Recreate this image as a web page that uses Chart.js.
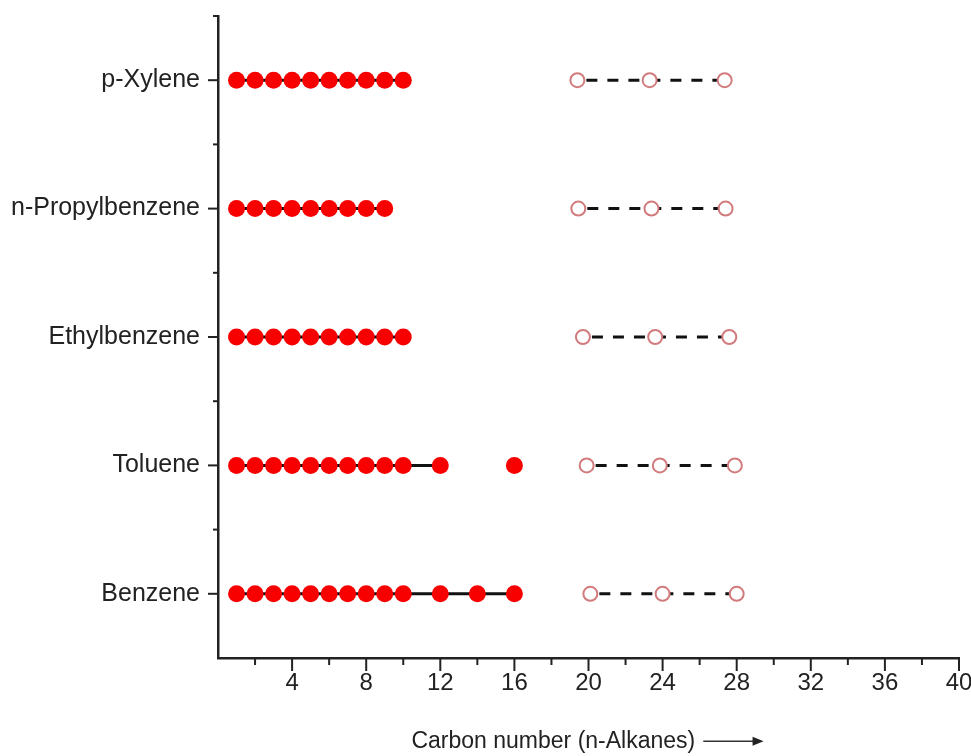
<!DOCTYPE html>
<html>
<head>
<meta charset="utf-8">
<script src="https://cdn.jsdelivr.net/npm/chart.js@4"></script>
<style>
  body { margin: 0; background: #fff; }
</style>
</head>
<body>
<canvas id="myChart" width="971" height="756"></canvas>
<script>
// compounds on the y axis, bottom to top
const compounds = ['Benzene', 'Toluene', 'Ethylbenzene', 'n-Propylbenzene', 'p-Xylene'];

// filled red markers: carbon numbers per compound
const benzeneFilled = [1, 2, 3, 4, 5, 6, 7, 8, 9, 10, 12, 14, 16];
const tolueneFilled = [1, 2, 3, 4, 5, 6, 7, 8, 9, 10, 12, 16];
const ethylFilled = [1, 2, 3, 4, 5, 6, 7, 8, 9, 10];
const propylFilled = [1, 2, 3, 4, 5, 6, 7, 8, 9];
const xyleneFilled = [1, 2, 3, 4, 5, 6, 7, 8, 9, 10];

// open markers
const benzeneOpen = [20.1, 24.0, 28.0];
const tolueneOpen = [19.9, 23.85, 27.9];
const ethylOpen = [19.7, 23.6, 27.6];
const propylOpen = [19.45, 23.4, 27.4];
const xyleneOpen = [19.4, 23.3, 27.35];

const xTicks = [4, 8, 12, 16, 20, 24, 28, 32, 36, 40];

const filledSets = [benzeneFilled, tolueneFilled, ethylFilled, propylFilled, xyleneFilled];
const openSets = [benzeneOpen, tolueneOpen, ethylOpen, propylOpen, xyleneOpen];

const FONT = "'Liberation Sans', Arial, sans-serif";
const titleText = 'Carbon number (n-Alkanes)           ';

const datasets = [];
openSets.forEach((vals, i) => {
  datasets.push({
    data: vals.map(v => ({x: v, y: i + 1})),
    showLine: true,
    borderColor: '#111',
    borderWidth: 3,
    borderDash: [11, 10],
    borderDashOffset: 12,
    pointRadius: 7,
    pointBorderWidth: 2,
    pointBorderColor: '#d27b7d',
    pointBackgroundColor: '#fff'
  });
});
filledSets.forEach((vals, i) => {
  datasets.push({
    data: vals.map(v => ({x: v, y: i + 1})),
    showLine: true,
    borderColor: '#111',
    borderWidth: 3,
    segment: {
      // no connecting line across a gap of more than 2 carbons
      borderColor: c => (c.p1.parsed.x - c.p0.parsed.x > 2 ? 'rgba(0,0,0,0)' : '#111')
    },
    pointRadius: 8.5,
    pointBorderWidth: 0,
    pointBackgroundColor: '#f80000'
  });
});

// draws major/minor tick marks and the arrow after the axis title
const axisExtras = {
  id: 'axisExtras',
  afterDraw(chart) {
    const ctx = chart.ctx;
    const xs = chart.scales.x, ys = chart.scales.y;
    ctx.save();
    ctx.strokeStyle = '#222';
    ctx.lineWidth = 2;
    xs.ticks.forEach(t => {
      if (t.value <= 0) return;
      const px = xs.getPixelForValue(t.value);
      const len = xTicks.includes(t.value) ? 13 : 7;
      ctx.beginPath();
      ctx.moveTo(px, xs.top);
      ctx.lineTo(px, xs.top + len);
      ctx.stroke();
    });
    ys.ticks.forEach(t => {
      if (t.value <= 0.5) return;
      const py = ys.getPixelForValue(t.value);
      const len = Number.isInteger(t.value) ? 10 : 5;
      ctx.beginPath();
      ctx.moveTo(ys.right, py);
      ctx.lineTo(ys.right - len, py);
      ctx.stroke();
    });

    // arrow
    const tOpt = xs.options.title;
    const fs = tOpt.font.size;
    ctx.font = fs + 'px ' + FONT;
    const full = ctx.measureText(titleText).width;
    const tw = ctx.measureText(titleText.trim()).width;
    const cx = (xs.left + xs.right) / 2;
    const start = cx - full / 2;
    const ay = xs.bottom - tOpt.padding.bottom - fs * 1.2 / 2;
    const x0 = start + tw + 8, x1 = start + full - 2;
    ctx.lineWidth = 1.5;
    ctx.strokeStyle = '#333';
    ctx.beginPath();
    ctx.moveTo(x0, ay);
    ctx.lineTo(x1 - 8, ay);
    ctx.stroke();
    ctx.fillStyle = '#222';
    ctx.beginPath();
    ctx.moveTo(x1, ay);
    ctx.lineTo(x1 - 11, ay - 4.5);
    ctx.lineTo(x1 - 11, ay + 4.5);
    ctx.closePath();
    ctx.fill();
    ctx.restore();
  }
};

const ctx = document.getElementById('myChart');
new Chart(ctx, {
  type: 'scatter',
  data: { datasets },
  plugins: [axisExtras],
  options: {
    responsive: false,
    animation: false,
    layout: { padding: { top: 16, right: 12, left: 0, bottom: 0 } },
    plugins: { legend: { display: false }, tooltip: { enabled: false } },
    scales: {
      x: {
        type: 'linear',
        min: 0,
        max: 40,
        afterFit: s => { s.height = 98; s.paddingRight = 0; s.paddingLeft = 0; },
        ticks: {
          stepSize: 2,
          autoSkip: false,
          maxRotation: 0,
          padding: 1,
          color: '#222',
          font: { family: FONT, size: 24 },
          callback: v => (xTicks.includes(v) ? v : '')
        },
        grid: { drawOnChartArea: false, drawTicks: true, tickLength: 10, tickColor: 'rgba(0,0,0,0)' },
        border: { display: true, color: '#222', width: 2.5 },
        title: {
          display: true,
          text: titleText,
          color: '#222',
          font: { family: FONT, size: 23 },
          padding: { top: 0, bottom: 1 }
        }
      },
      y: {
        type: 'linear',
        min: 0.5,
        max: 5.5,
        afterFit: s => { s.width = 218; s.paddingTop = 0; s.paddingBottom = 0; },
        ticks: {
          stepSize: 0.5,
          autoSkip: false,
          padding: 8,
          color: '#222',
          font: { family: FONT, size: 25 },
          callback: v => (Number.isInteger(v) ? compounds[v - 1] : '')
        },
        grid: { drawOnChartArea: false, drawTicks: true, tickLength: 10, tickColor: 'rgba(0,0,0,0)' },
        border: { display: true, color: '#222', width: 2.5 }
      }
    }
  }
});
</script>
</body>
</html>
